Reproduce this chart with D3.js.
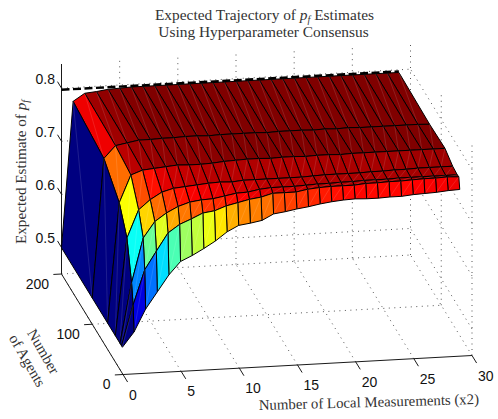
<!DOCTYPE html>
<html>
<head>
<meta charset="utf-8">
<script src="https://cdnjs.cloudflare.com/ajax/libs/d3/7.8.5/d3.min.js"></script>
<style>
  html, body { margin: 0; padding: 0; background: #fff; }
  svg { display: block; }
  .serif { font-family: "Liberation Serif", serif; fill: #333; }
  .tick { font-family: "Liberation Sans", sans-serif; font-size: 14px; fill: #111; }
</style>
</head>
<body>
<svg id="chart" width="498" height="419"></svg>
<script>
// number of local measurements, one column per value
const measurements = d3.range(0, 30)
// number of agents, one row per value
const agents = [2, 5, 10, 25, 50, 100, 200]

// expected estimate, row by row
const z2 = [.4994,.527,.569,.600,.631,.655,.665,.677,.690,.706,.717,.720,.724,.735,.738,.742,.745,.749,.752,.754,.755,.754,.754,.755,.755,.757,.758,.759,.761,.762]
const z5 = [.4994,.575,.640,.674,.707,.722,.731,.741,.744,.752,.757,.762,.765,.771,.771,.771,.775,.777,.778,.778,.778,.780,.780,.781,.781,.782,.783,.783,.784,.783]
const z10 = [.4994,.612,.695,.725,.740,.751,.758,.761,.762,.766,.770,.771,.775,.777,.777,.777,.778,.779,.779,.780,.780,.781,.781,.781,.782,.782,.782,.782,.782,.782]
const z25 = [.4994,.682,.734,.752,.765,.771,.773,.775,.777,.778,.777,.779,.779,.779,.779,.779,.779,.780,.781,.781,.781,.781,.782,.782,.783,.783,.784,.784,.784,.784]
const z50 = [.4994,.725,.776,.784,.786,.788,.790,.789,.789,.790,.792,.793,.794,.794,.793,.794,.794,.793,.794,.794,.793,.794,.794,.794,.794,.794,.794,.794,.794,.794]
const z100 = [.4994,.761,.784,.788,.792,.792,.793,.793,.794,.794,.793,.794,.794,.794,.794,.793,.794,.794,.794,.793,.794,.793,.794,.793,.793,.793,.793,.793,.793,.792]
const z200 = [.4994,.774,.788,.790,.793,.794,.795,.795,.795,.795,.795,.795,.795,.795,.795,.795,.795,.795,.795,.795,.795,.795,.795,.795,.795,.795,.795,.795,.795,.795]
const zRows = [z2, z5, z10, z25, z50, z100, z200]

// dashed reference line at the back of the surface
const refX = [0, 29]
const refZ = [.797, .797]

const xTicks = [0, 5, 10, 15, 20, 25, 30]
const yTicks = [0, 100, 200]
const zTicks = [.5, .6, .7, .8]
const zTickLabels = ["0.5", "0.6", "0.7", "0.8"]

const svg = d3.select("#chart")

// orthographic view, three scales per axis direction
const origin = {x: 123, y: 374.5}
const xPx = d3.scaleLinear().domain([0, 30]).range([0, 349])
const xPy = d3.scaleLinear().domain([0, 30]).range([0, -19])
const yPx = d3.scaleLinear().domain([0, 200]).range([0, -61.5])
const yPy = d3.scaleLinear().domain([0, 200]).range([0, -100.5])
const zPy = d3.scaleLinear().domain([.45, .8455]).range([0, -210])
const zMin = .45, zMax = .8455

function project(x, y, z) {
  return [origin.x + xPx(x) + yPx(y), origin.y + xPy(x) + yPy(y) + zPy(z)]
}

const jet = d3.scaleLinear()
  .domain([0, .125, .375, .625, .875, 1])
  .range(["#000080", "#0000ff", "#00ffff", "#ffff00", "#ff0000", "#800000"])
const colorT = d3.scaleLinear().domain([.4994, .793]).range([0, 1]).clamp(true)

const line = d3.line()

// dotted box grid
const grid = svg.append("g")
  .attr("fill", "none")
  .attr("stroke", "#555")
  .attr("stroke-width", 1)
  .attr("stroke-dasharray", "1 4.5")

function gridLine(a, b) {
  grid.append("path").attr("d", line([project(a[0], a[1], a[2]), project(b[0], b[1], b[2])]))
}

xTicks.forEach(x => {
  gridLine([x, 0, zMin], [x, 200, zMin])
  if (x > 0) gridLine([x, 200, zMin], [x, 200, zMax])
})
yTicks.forEach(y => {
  if (y > 0) gridLine([0, y, zMin], [30, y, zMin])
  if (y < 200) gridLine([30, y, zMin], [30, y, zMax])
})
zTicks.forEach(z => {
  gridLine([0, 200, z], [30, 200, z])
  gridLine([30, 0, z], [30, 200, z])
})

// axis lines
const axes = svg.append("g").attr("fill", "none").attr("stroke", "#1a1a1a").attr("stroke-width", 1)
axes.append("path").attr("d", line([project(0, 200, zMax), project(0, 200, zMin), project(0, 0, zMin), project(30, 0, zMin)]))

xTicks.forEach(x => {
  axes.append("path").attr("d", line([project(x, 0, zMin), project(x, -15, zMin)]))
  let p = project(x, 0, zMin)
  svg.append("text").attr("class", "tick")
    .attr("x", p[0] + 6).attr("y", p[1] + 25)
    .text(x)
})
yTicks.forEach(y => {
  axes.append("path").attr("d", line([project(0, y, zMin), project(-.7, y, zMin)]))
  let p = project(0, y, zMin)
  svg.append("text").attr("class", "tick")
    .attr("x", p[0] - 12.5).attr("y", p[1] + 14.5)
    .attr("text-anchor", "end")
    .text(y)
})
zTicks.forEach((z, i) => {
  axes.append("path").attr("d", line([project(0, 200, z), project(0, 213, z)]))
  let p = project(0, 200, z)
  svg.append("text").attr("class", "tick")
    .attr("x", 55).attr("y", p[1] - 4)
    .attr("text-anchor", "end")
    .text(zTickLabels[i])
})

// surface, back to front so nearer cells cover farther ones
const surface = svg.append("g")
for (let j = agents.length - 2; j >= 0; j--) {
  for (let i = measurements.length - 2; i >= 0; i--) {
    let a = project(measurements[i], agents[j], zRows[j][i])
    let b = project(measurements[i + 1], agents[j], zRows[j][i + 1])
    let c = project(measurements[i + 1], agents[j + 1], zRows[j + 1][i + 1])
    let d = project(measurements[i], agents[j + 1], zRows[j + 1][i])
    surface.append("path")
      .attr("d", line([a, b, c, d]) + "Z")
      .attr("fill", jet(colorT(zRows[j][i])))
      .attr("stroke", "#000")
      .attr("stroke-width", 1)
      .attr("stroke-linejoin", "round")
    // hairline where the renderer split each cell in two
    surface.append("path")
      .attr("d", line([a, c]))
      .attr("stroke", "#fff")
      .attr("stroke-opacity", .2)
      .attr("stroke-width", .6)
  }
}

// dashed line
svg.append("path")
  .attr("d", line(refX.map((x, i) => project(x, 200, refZ[i]))))
  .attr("fill", "none")
  .attr("stroke", "#000")
  .attr("stroke-width", 2.4)
  .attr("stroke-dasharray", "8 3.5")

function pf(sel) {
  sel.append("tspan").attr("font-style", "italic").text("p")
  sel.append("tspan").attr("font-style", "italic").attr("font-size", "10px").attr("dy", 2.5).text("f")
}

// title
let t1 = svg.append("text").attr("class", "serif").attr("font-size", "15.4px")
  .attr("x", 264.5).attr("y", 20).attr("text-anchor", "middle")
t1.append("tspan").text("Expected Trajectory of ")
pf(t1)
t1.append("tspan").attr("dy", -2.5).text(" Estimates")
svg.append("text").attr("class", "serif").attr("font-size", "15.4px")
  .attr("x", 263.5).attr("y", 37).attr("text-anchor", "middle")
  .text("Using Hyperparameter Consensus")

// axis labels
let zl = svg.append("text").attr("class", "serif").attr("font-size", "15.2px")
  .attr("transform", "translate(26,172) rotate(-90)").attr("text-anchor", "middle")
zl.append("tspan").text("Expected Estimate of ")
pf(zl)

svg.append("text").attr("class", "serif").attr("font-size", "14.8px")
  .attr("transform", "translate(369,407) rotate(-1.6)").attr("text-anchor", "middle")
  .text("Number of Local Measurements (x2)")

svg.append("text").attr("class", "serif").attr("font-size", "15px")
  .attr("transform", "translate(39,354) rotate(60)").attr("text-anchor", "middle")
  .text("Number")
svg.append("text").attr("class", "serif").attr("font-size", "15px")
  .attr("transform", "translate(23,363) rotate(60)").attr("text-anchor", "middle")
  .text("of Agents")
</script>
</body>
</html>
